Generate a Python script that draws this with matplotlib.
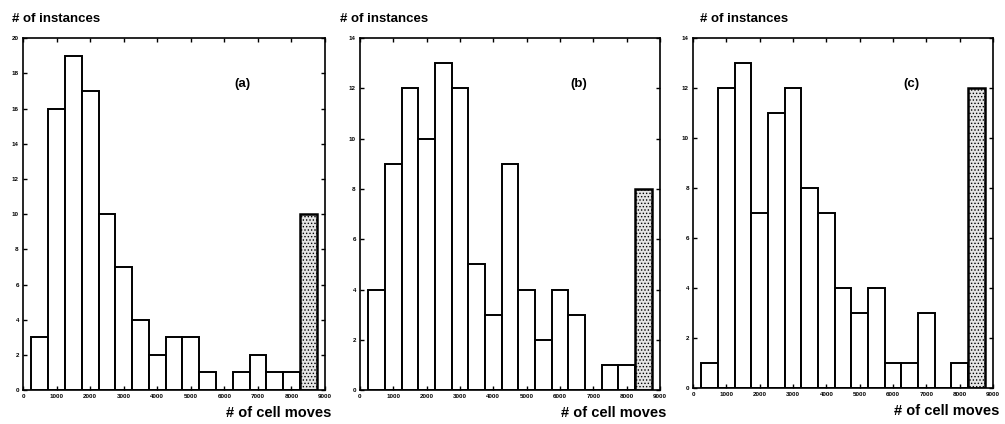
import matplotlib
matplotlib.use("Agg")
import matplotlib.pyplot as plt
import numpy as np

plt.rcParams['font.family'] = ['Liberation Sans', 'DejaVu Sans']
plt.rcParams['hatch.color'] = '#808080'
plt.rcParams['hatch.linewidth'] = 0.6

# bin centres (# of cell moves), bins are 500 wide
bin_centers = [500, 1000, 1500, 2000, 2500, 3000, 3500, 4000, 4500,
               5000, 5500, 6000, 6500, 7000, 7500, 8000, 8500]

# counts per bin; the last bin is the shaded one
counts_a = [3, 16, 19, 17, 10, 7, 4, 2, 3, 3, 1, 0, 1, 2, 1, 1, 10]
counts_b = [4, 9, 12, 10, 13, 12, 5, 3, 9, 4, 2, 4, 3, 0, 1, 1, 8]
counts_c = [1, 12, 13, 7, 11, 12, 8, 7, 4, 3, 4, 1, 1, 3, 0, 1, 12]

panel_labels = ['(a)', '(b)', '(c)']
y_max = [20, 14, 14]
x_ticks = [0, 1000, 2000, 3000, 4000, 5000, 6000, 7000, 8000, 9000]

fig = plt.figure(figsize=(10.05, 4.24), dpi=100)

# axes rectangles in figure fraction
rects = [
    [0.0229, 0.080, 0.3005, 0.830],
    [0.3582, 0.080, 0.2985, 0.830],
    [0.6896, 0.085, 0.2985, 0.825],
]
# where "# of instances" starts, in pixels relative to the axes' left edge
ylab_dx = [-11, -20, 7]

all_counts = [counts_a, counts_b, counts_c]

for k in range(3):
    ax = fig.add_axes(rects[k])
    counts = all_counts[k]
    # plain bars
    ax.bar(bin_centers[:-1], counts[:-1], width=500, facecolor='white',
           edgecolor='black', linewidth=1.4)
    # shaded last bar
    ax.bar(bin_centers[-1:], counts[-1:], width=500, facecolor='#e4e4e4',
           edgecolor='black', linewidth=1.8, hatch='.....')

    ax.set_xlim(0, 9000)
    ax.set_ylim(0, y_max[k])
    ax.set_xticks(x_ticks)
    ax.set_xticklabels([str(t) for t in x_ticks])
    ax.set_yticks(np.arange(0, y_max[k] + 1, 2))
    ax.tick_params(direction='in', top=True, right=True, length=3, width=1,
                   labelsize=4.5, pad=3)
    for lab in ax.get_xticklabels() + ax.get_yticklabels():
        lab.set_fontweight('bold')
    for sp in ax.spines.values():
        sp.set_linewidth(1.2)

    ax.text(6300, y_max[k] * 0.87, panel_labels[k], fontsize=9.5,
            fontweight='bold', ha='left', va='center')

    # axis titles: y title above the top-left corner, x title under right end
    w_px = rects[k][2] * 1005
    h_px = rects[k][3] * 424
    ax.text(ylab_dx[k] / w_px, 1.0 + 13 / h_px, '# of instances',
            transform=ax.transAxes, fontsize=9.5, fontweight='bold',
            ha='left', va='bottom')
    ax.text(1.0 + 6 / w_px, -16 / h_px, '# of cell moves',
            transform=ax.transAxes, fontsize=10.5, fontweight='bold',
            ha='right', va='top')

fig.savefig('out.png', dpi=100)
